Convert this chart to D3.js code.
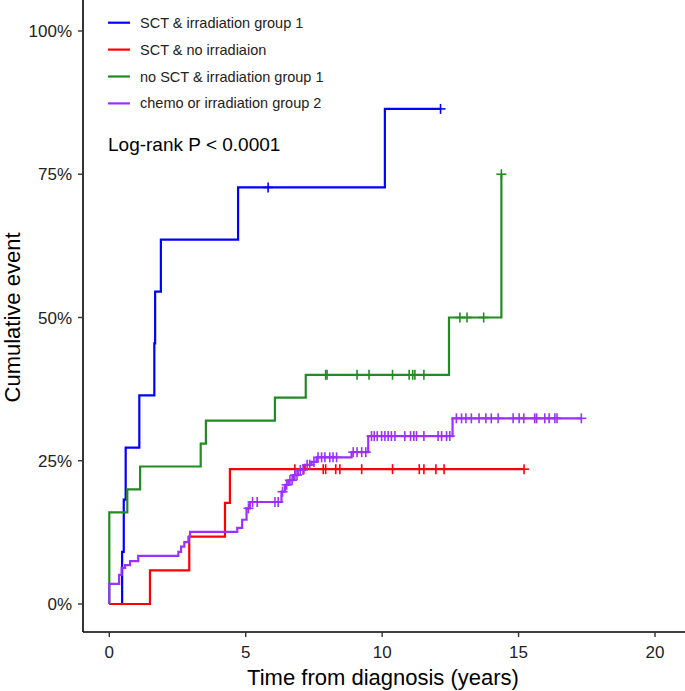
<!DOCTYPE html>
<html>
<head>
<meta charset="utf-8">
<script src="https://cdn.jsdelivr.net/npm/d3@7"></script>
<style>
  html, body { margin: 0; padding: 0; background: #fff; }
  svg { display: block; font-family: "Liberation Sans", Arial, sans-serif; }
</style>
</head>
<body>
<svg id="chart" width="685" height="691"></svg>
<script>
// ---------- data ----------
const groupNames = ["SCT & irradiation group 1", "SCT & no irradiaion", "no SCT & irradiation group 1", "chemo or irradiation group 2"];
const groupColors = ["#0000FF", "#FF0000", "#228B22", "#9B30FF"];

const blueTimes  = [0, 0.47, 0.53, 0.60, 1.10, 1.65, 1.68, 1.89, 4.72, 10.10];
const blueValues = [0, 9.1, 18.2, 27.3, 36.4, 45.5, 54.5, 63.6, 72.7, 86.4];
const blueEnd = 12.14;
const blueCensor = [5.82, 12.14];

const redTimes  = [0, 1.49, 2.93, 4.24, 4.42];
const redValues = [0, 5.88, 11.76, 17.65, 23.53];
const redEnd = 15.2;
const redCensor = [6.8, 7.13, 7.84, 7.93, 8.3, 8.45, 9.25, 10.38, 11.36, 11.53, 11.97, 12.27, 15.2];

const greenTimes  = [0, 0, 0.66, 1.13, 3.35, 3.54, 6.07, 7.20, 12.45, 14.37];
const greenValues = [0, 16, 20, 24, 28, 32, 36, 40, 50, 75];
const greenEnd = 14.37;
const greenCensor = [7.93, 7.98, 9.08, 9.52, 10.38, 10.99, 11.12, 11.2, 11.53, 12.85, 13.11, 13.72, 14.37];

const purpleTimes  = [0, 0, 0.36, 0.45, 0.58, 0.76, 1.06, 2.53, 2.63, 2.75, 2.90, 2.96, 4.69, 4.87, 5.03, 5.15, 6.31, 6.44, 6.56, 6.74, 6.92, 7.17, 7.41, 7.60, 8.88, 9.49, 12.58];
const purpleValues = [0, 3.5, 5.1, 6.3, 6.8, 7.5, 8.4, 9.1, 10.0, 10.8, 11.7, 12.6, 13.3, 14.7, 16.7, 17.8, 19.6, 20.8, 21.6, 22.5, 23.4, 24.3, 24.8, 25.6, 26.5, 29.3, 32.4];
const purpleEnd = 17.3;
const purpleCensor = [5.1, 5.25, 5.42, 6.07, 6.19, 6.35, 6.5, 6.62, 6.7, 6.8, 6.88, 7.0, 7.1, 7.25, 7.35, 7.5, 7.65, 7.78, 7.9, 8.08, 8.2, 8.33, 8.94, 9.08, 9.25, 9.4, 9.61, 9.71, 9.82, 9.98, 10.1, 10.22, 10.34, 10.47, 10.83, 11.04, 11.16, 11.26, 11.53, 12.05, 12.18, 12.36, 12.48, 12.72, 12.91, 13.07, 13.27, 13.55, 13.8, 14.0, 14.25, 14.8, 15.02, 15.19, 15.59, 15.66, 15.96, 16.12, 16.33, 16.41, 17.3];

const xTicks = [0, 5, 10, 15, 20];
const yTicks = [0, 0.25, 0.5, 0.75, 1];
const yTickLabels = ["0%", "25%", "50%", "75%", "100%"];
const xTitle = "Time from diagnosis (years)";
const yTitle = "Cumulative event";
const pText = "Log-rank P < 0.0001";

const groups = [
  {times: blueTimes, values: blueValues, end: blueEnd, censor: blueCensor},
  {times: redTimes, values: redValues, end: redEnd, censor: redCensor},
  {times: greenTimes, values: greenValues, end: greenEnd, censor: greenCensor},
  {times: purpleTimes, values: purpleValues, end: purpleEnd, censor: purpleCensor}
];

// ---------- layout ----------
const svg = d3.select("#chart");
const axisX = 83, axisY = 632;
const x = d3.scaleLinear().domain([0, 20]).range([109.3, 655]);
const y = d3.scaleLinear().domain([0, 1]).range([604, 31]);

// axes
svg.append("line").attr("x1", axisX).attr("x2", axisX).attr("y1", 0).attr("y2", axisY)
  .attr("stroke", "#000").attr("stroke-width", 1.6);
svg.append("line").attr("x1", axisX).attr("x2", 685).attr("y1", axisY).attr("y2", axisY)
  .attr("stroke", "#000").attr("stroke-width", 1.6);

svg.selectAll(".yt").data(yTicks).enter().append("line")
  .attr("x1", axisX - 5).attr("x2", axisX).attr("y1", d => y(d)).attr("y2", d => y(d))
  .attr("stroke", "#333").attr("stroke-width", 1.4);
svg.selectAll(".ytl").data(yTicks).enter().append("text")
  .attr("x", axisX - 11).attr("y", d => y(d)).attr("dy", "0.36em")
  .attr("text-anchor", "end").attr("font-size", 17).attr("fill", "#222")
  .text((d, i) => yTickLabels[i]);

svg.selectAll(".xt").data(xTicks).enter().append("line")
  .attr("x1", d => x(d)).attr("x2", d => x(d)).attr("y1", axisY).attr("y2", axisY + 5)
  .attr("stroke", "#333").attr("stroke-width", 1.4);
svg.selectAll(".xtl").data(xTicks).enter().append("text")
  .attr("x", d => x(d)).attr("y", 658)
  .attr("text-anchor", "middle").attr("font-size", 17).attr("fill", "#222")
  .text(d => d);

svg.append("text").attr("x", 383).attr("y", 685).attr("text-anchor", "middle")
  .attr("font-size", 22).attr("fill", "#000").text(xTitle);
svg.append("text").attr("transform", `translate(20, ${y(0.5)}) rotate(-90)`)
  .attr("text-anchor", "middle").attr("font-size", 22).attr("fill", "#000").text(yTitle);

// curves
const line = d3.line().x(d => x(d[0])).y(d => y(d[1])).curve(d3.curveStepAfter);
function stepAt(g, t) {
  let v = 0;
  for (let i = 0; i < g.times.length; i++) if (g.times[i] <= t) v = g.values[i];
  return v / 100;
}
groups.forEach((g, gi) => {
  const pts = g.times.map((t, i) => [t, g.values[i] / 100]);
  pts.push([g.end, g.values[g.values.length - 1] / 100]);
  svg.append("path").attr("d", line(pts)).attr("fill", "none")
    .attr("stroke", groupColors[gi]).attr("stroke-width", 2.2);
});
groups.forEach((g, gi) => {
  const cg = svg.append("g").attr("stroke", groupColors[gi]).attr("stroke-width", 1.6);
  g.censor.forEach(t => {
    const cx = x(t), cy = y(stepAt(g, t));
    cg.append("line").attr("x1", cx).attr("x2", cx).attr("y1", cy - 5).attr("y2", cy + 5);
    cg.append("line").attr("x1", cx - 5).attr("x2", cx + 5).attr("y1", cy).attr("y2", cy);
  });
});

// legend
const leg = svg.append("g");
groupNames.forEach((n, i) => {
  const ly = 22.7 + i * 26.9;
  leg.append("line").attr("x1", 108).attr("x2", 130).attr("y1", ly).attr("y2", ly)
    .attr("stroke", groupColors[i]).attr("stroke-width", 2.2);
  leg.append("text").attr("x", 140).attr("y", ly).attr("dy", "0.35em")
    .attr("font-size", 14.5).attr("fill", "#222").text(n);
});

svg.append("text").attr("x", 108).attr("y", 151).attr("font-size", 19)
  .attr("fill", "#000").text(pText);
</script>
</body>
</html>
